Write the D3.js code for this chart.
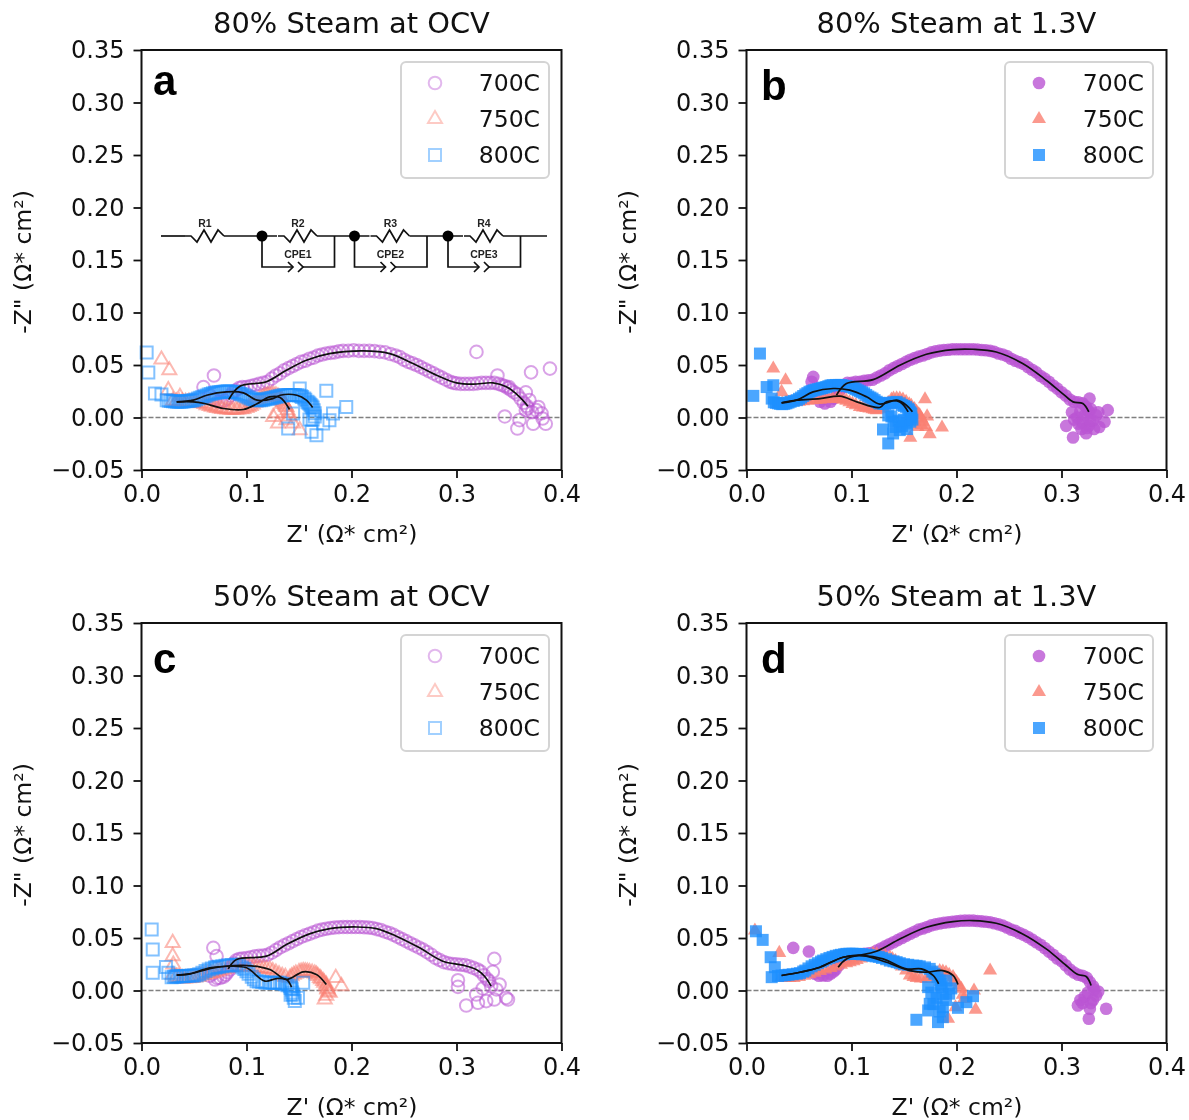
<!DOCTYPE html>
<html>
<head>
<meta charset="utf-8">
<script src="https://cdn.jsdelivr.net/npm/d3@7"></script>
<style>
body { margin: 0; background: #fff; }
svg { display: block; font-family: "DejaVu Sans", sans-serif; fill: #111; filter: blur(.65px); }
</style>
</head>
<body>
<svg id="chart" width="1189" height="1120"></svg>
<script>
// values, [Z', -Z'']

// panel a
var a700 = [[.069,.04],[.059,.029],[.065,.021],[.068,.018],[.07,.017],[.073,.015],[.076,.015],[.079,.016],[.082,.018],[.085,.021],[.087,.024],[.09,.026],[.093,.028],[.096,.029],[.1,.029],[.104,.03],[.108,.031],[.112,.032],[.116,.033],[.12,.034],[.124,.037],[.128,.04],[.132,.042],[.136,.045],[.14,.047],[.144,.049],[.148,.051],[.152,.053],[.156,.054],[.16,.056],[.164,.057],[.168,.059],[.172,.06],[.176,.061],[.18,.0615],[.184,.062],[.188,.063],[.192,.0635],[.197,.0635],[.202,.064],[.207,.0635],[.212,.0635],[.217,.0635],[.222,.0632],[.227,.0625],[.232,.062],[.237,.0605],[.242,.059],[.246,.0575],[.25,.055],[.254,.053],[.258,.0515],[.262,.05],[.266,.048],[.27,.046],[.274,.044],[.278,.042],[.282,.04],[.286,.038],[.29,.036],[.294,.034],[.297,.033],[.3,.0325],[.304,.032],[.308,.032],[.312,.032],[.316,.032],[.32,.0325],[.324,.033],[.328,.033],[.332,.033],[.336,.033],[.34,.032],[.343,.031],[.346,.03],[.349,.028],[.352,.026],[.355,.024],[.358,.022],[.361,.018],[.364,.014],[.367,.011],[.368,.009],[.319,.0625],[.339,.04],[.371,.043],[.389,.0466],[.35,.029],[.366,.024],[.3695,.0165],[.376,.007],[.381,.004],[.366,.007],[.346,.001],[.36,-.0025],[.358,-.0105],[.373,-.006],[.385,-.006],[.382,-.001],[.372,.005],[.378,.01]];
var a750 = [[.019,.0552],[.0265,.045],[.0255,.026],[.0366,.0197],[.03,.016],[.033,.0155],[.036,.015],[.039,.015],[.042,.015],[.045,.0148],[.048,.0145],[.051,.014],[.054,.014],[.057,.0135],[.06,.0128],[.062,.0118],[.065,.011],[.067,.0102],[.07,.0095],[.072,.009],[.075,.0085],[.077,.0082],[.08,.0078],[.082,.0076],[.085,.0075],[.087,.0075],[.09,.0075],[.092,.0076],[.095,.0078],[.097,.0082],[.1,.009],[.102,.01],[.104,.011],[.106,.0125],[.108,.014],[.11,.0155],[.112,.017],[.114,.0183],[.116,.0195],[.118,.0203],[.12,.021],[.122,.0213],[.124,.0215],[.126,.0213],[.128,.021],[.13,.02],[.131,.019],[.133,.017],[.134,.016],[.135,.0145],[.136,.013],[.137,.0115],[.138,.01],[.139,.007],[.14,.004],[.141,.001],[.1254,.0006],[.13,-.0057],[.1507,-.012],[.1444,-.0057],[.138,-.0025],[.1285,.004]];
var a800 = [[.0049,.0618],[.0065,.0428],[.0128,.0228],[.019,.022],[.024,.0165],[.026,.016],[.028,.0158],[.03,.0155],[.032,.0152],[.034,.015],[.036,.015],[.038,.015],[.04,.0152],[.042,.0155],[.044,.0158],[.046,.016],[.048,.0162],[.05,.0165],[.052,.0172],[.054,.018],[.056,.0188],[.058,.0195],[.06,.0202],[.062,.021],[.064,.0218],[.066,.0225],[.068,.023],[.07,.0235],[.072,.0238],[.074,.024],[.076,.0242],[.078,.0245],[.08,.0248],[.082,.025],[.084,.0248],[.086,.0245],[.088,.0243],[.09,.024],[.092,.0233],[.094,.0225],[.096,.0218],[.098,.021],[.1,.02],[.102,.019],[.104,.0182],[.106,.0175],[.108,.017],[.11,.0165],[.112,.0165],[.114,.0165],[.116,.017],[.118,.0175],[.12,.0178],[.122,.018],[.124,.0185],[.126,.019],[.128,.0195],[.13,.02],[.132,.0205],[.134,.021],[.136,.0213],[.138,.0215],[.14,.0215],[.142,.0215],[.144,.0215],[.146,.0215],[.148,.0213],[.15,.021],[.152,.0202],[.153,.0195],[.155,.018],[.156,.017],[.158,.015],[.159,.014],[.16,.013],[.161,.012],[.162,.0108],[.163,.0095],[.164,.007],[.165,.004],[.165,.001],[.163,-.002],[.1507,.0276],[.176,.0254],[.195,.0101],[.1824,.0038],[.179,-.0025],[.173,-.0057],[.162,-.0136],[.1666,-.0168],[.1397,-.0105],[.16,-.002],[.1444,.0038]];
var aFit700 = [[.083,.017],[.0937,.0298],[.119,.034],[.138,.045],[.157,.0546],[.179,.0609],[.211,.0634],[.2364,.0609],[.2586,.0514],[.281,.0403],[.3,.033],[.3157,.0317],[.3347,.033],[.3475,.0292],[.36,.0197],[.368,.0108]];
var aFit750 = [[.0335,.0149],[.0493,.0149],[.06,.0133],[.078,.0086],[.097,.0076],[.11,.013],[.122,.0196],[.132,.019],[.141,.0076]];
var aFit800 = [[.0335,.0149],[.0493,.0165],[.062,.0212],[.081,.0244],[.097,.0235],[.11,.0165],[.125,.018],[.132,.0212],[.148,.0212],[.157,.0165],[.163,.0095]];

// panel b
var b700 = [[.0636,.0387],[.062,.034],[.0746,.0133],[.07,.015],[.074,.018],[.08,.015],[.083,.018],[.086,.021],[.088,.025],[.09,.027],[.093,.031],[.096,.033],[.1,.033],[.104,.034],[.108,.034],[.112,.035],[.116,.0355],[.12,.036],[.124,.038],[.128,.04],[.132,.042],[.136,.045],[.14,.047],[.144,.049],[.148,.051],[.152,.053],[.156,.055],[.16,.0565],[.164,.058],[.168,.059],[.172,.0605],[.176,.062],[.18,.063],[.184,.0637],[.188,.0643],[.192,.0645],[.196,.065],[.2,.065],[.204,.065],[.208,.065],[.212,.065],[.216,.065],[.22,.0647],[.224,.0643],[.228,.064],[.232,.0635],[.236,.0625],[.24,.061],[.244,.06],[.248,.0585],[.252,.056],[.256,.054],[.26,.0525],[.264,.051],[.268,.048],[.272,.0455],[.276,.043],[.28,.0395],[.284,.037],[.288,.034],[.292,.0305],[.296,.0275],[.3,.024],[.304,.021],[.308,.017],[.312,.015],[.316,.0145],[.32,.0135],[.323,.0105],[.325,.007],[.326,.0054],[.344,.007],[.311,-.019],[.3045,-.008],[.3267,.018],[.336,-.009],[.341,-.004],[.3235,-.015],[.31,.005],[.312,-.002],[.315,0],[.318,.006],[.32,-.005],[.322,.002],[.324,-.01],[.326,-.008],[.328,.008],[.33,-.003],[.331,-.011],[.333,.002],[.335,.005],[.316,-.006],[.319,-.011],[.327,-.003]];
var b750 = [[.0255,.0466],[.0372,.0355],[.0334,.0244],[.17,.0174],[.1862,-.0095],[.1745,-.0158],[.156,-.0193],[.171,-.0089],[.03,.013],[.034,.0135],[.038,.014],[.042,.0145],[.046,.0148],[.05,.015],[.054,.0155],[.058,.016],[.062,.0165],[.066,.0168],[.07,.017],[.074,.0175],[.078,.0178],[.082,.018],[.086,.018],[.089,.018],[.092,.017],[.095,.016],[.098,.0145],[.101,.013],[.104,.0118],[.108,.01],[.111,.0095],[.114,.009],[.117,.0085],[.12,.008],[.122,.0075],[.124,.007],[.127,.008],[.13,.009],[.133,.012],[.135,.014],[.138,.017],[.14,.018],[.143,.0182],[.146,.018],[.149,.017],[.152,.015],[.155,.0125],[.157,.011],[.16,.008],[.162,.0054],[.164,.003],[.165,.002],[.1666,-.001],[.1666,-.007],[.168,-.004],[.172,.001],[.16,-.004],[.163,-.009]];
var b800 = [[.0128,.0609],[.0065,.0206],[.0192,.029],[.0255,.0307],[.024,.018],[.026,.0145],[.028,.014],[.03,.0135],[.032,.013],[.034,.0127],[.036,.013],[.038,.0135],[.04,.0142],[.042,.015],[.045,.0158],[.048,.0165],[.05,.0178],[.052,.019],[.054,.0205],[.056,.022],[.058,.0232],[.06,.0245],[.062,.0252],[.064,.026],[.066,.0265],[.068,.027],[.07,.0275],[.072,.028],[.074,.0285],[.076,.029],[.078,.0298],[.08,.0305],[.082,.0308],[.085,.031],[.088,.031],[.09,.031],[.092,.0305],[.095,.03],[.098,.0295],[.1,.029],[.102,.028],[.104,.027],[.106,.026],[.108,.025],[.11,.024],[.112,.023],[.114,.0215],[.116,.02],[.118,.019],[.12,.018],[.122,.0165],[.124,.015],[.126,.014],[.127,.0133],[.13,.013],[.132,.013],[.135,.0135],[.137,.014],[.14,.0145],[.143,.0149],[.146,.0135],[.148,.012],[.15,.011],[.152,.0101],[.154,.0085],[.155,.007],[.156,.005],[.157,.0038],[.157,0],[.13,-.0114],[.135,-.0247],[.1396,-.0152],[.146,-.012],[.1523,-.0057],[.14,-.004],[.135,.002],[.15,-.002],[.156,-.004],[.148,-.008],[.142,-.009],[.153,-.011],[.145,-.003],[.138,.001],[.158,-.002]];
var bFit700 = [[.0857,.0212],[.0952,.0323],[.1206,.0361],[.146,.0498],[.1713,.0602],[.1967,.0647],[.2157,.065],[.2379,.0624],[.263,.0514],[.2854,.0355],[.301,.0228],[.311,.0149],[.3203,.0133],[.326,.0054]];
var bFit750 = [[.0334,.014],[.0477,.0165],[.07,.018],[.089,.0203],[.105,.0149],[.127,.0095],[.1333,.0149],[.146,.0149],[.154,.0054]];
var bFit800 = [[.0334,.014],[.0477,.0165],[.0635,.0244],[.0826,.0276],[.0984,.026],[.1143,.0197],[.127,.0127],[.143,.0165],[.1523,.0117],[.158,.0054]];

// panel c
var c700 = [[.0684,.0406],[.0715,.0327],[.07,.0105],[.065,.014],[.068,.016],[.072,.012],[.075,.012],[.078,.013],[.08,.015],[.082,.0175],[.084,.02],[.086,.023],[.088,.026],[.09,.0285],[.093,.03],[.096,.0305],[.1,.031],[.104,.0317],[.108,.0325],[.112,.033],[.116,.0333],[.12,.034],[.124,.036],[.128,.0385],[.132,.041],[.136,.043],[.14,.045],[.144,.047],[.148,.049],[.152,.051],[.156,.0525],[.16,.0539],[.164,.0555],[.168,.057],[.172,.058],[.176,.0588],[.18,.0595],[.184,.06],[.188,.0603],[.192,.0605],[.196,.0605],[.2,.0605],[.204,.0605],[.208,.0605],[.212,.0602],[.216,.06],[.22,.0595],[.224,.0585],[.228,.0575],[.232,.056],[.236,.0548],[.24,.053],[.244,.051],[.248,.049],[.252,.047],[.256,.045],[.26,.043],[.264,.041],[.268,.039],[.272,.0365],[.276,.034],[.28,.031],[.284,.029],[.288,.027],[.292,.026],[.296,.0253],[.3,.025],[.304,.0245],[.308,.0242],[.312,.023],[.316,.0215],[.32,.02],[.323,.018],[.326,.0145],[.329,.011],[.331,.009],[.333,.004],[.336,.0301],[.3346,.0178],[.3014,.0098],[.3014,.0035],[.3093,-.0143],[.3204,-.0117],[.3283,-.0101],[.3473,-.007],[.349,-.0086],[.341,.0057],[.3188,-.0038],[.336,-.0086],[.325,.002],[.338,.001]];
var c750 = [[.0297,.0453],[.0297,.0327],[.0303,.0247],[.03,.015],[.033,.013],[.036,.012],[.039,.0115],[.0414,.0114],[.045,.0117],[.048,.012],[.051,.0125],[.054,.013],[.057,.014],[.06,.015],[.063,.0158],[.066,.0163],[.0684,.0168],[.072,.018],[.075,.019],[.078,.02],[.082,.021],[.086,.022],[.09,.0225],[.093,.0228],[.0969,.0231],[.1,.0232],[.104,.023],[.107,.0225],[.11,.022],[.113,.0215],[.116,.021],[.119,.0205],[.1222,.02],[.125,.0185],[.128,.017],[.131,.0155],[.134,.014],[.137,.013],[.1413,.012],[.143,.0135],[.145,.015],[.147,.016],[.15,.0175],[.152,.018],[.154,.0184],[.156,.0183],[.158,.018],[.16,.0175],[.1625,.017],[.165,.0162],[.1666,.0152],[.168,.0138],[.17,.012],[.171,.0108],[.173,.009],[.174,.0075],[.176,.0057],[.176,.004],[.177,.002],[.177,.001],[.178,-.001],[.1793,-.0022],[.1745,-.0086],[.176,-.005],[.185,.012],[.1904,.0041]];
var c800 = [[.0097,.058],[.0107,.039],[.0107,.0168],[.0233,.0225],[.0256,.0168],[.0287,.0127],[.031,.013],[.0325,.0133],[.034,.0134],[.036,.0135],[.038,.0135],[.0398,.0136],[.042,.0138],[.045,.014],[.048,.0142],[.05,.0144],[.0525,.0146],[.055,.0155],[.058,.017],[.061,.0185],[.064,.02],[.067,.021],[.07,.0218],[.0715,.0222],[.074,.0226],[.077,.023],[.08,.0235],[.083,.024],[.086,.0243],[.0905,.0247],[.093,.0235],[.096,.022],[.098,.0205],[.1,.0184],[.102,.016],[.105,.013],[.107,.0108],[.1096,.0089],[.112,.0085],[.115,.008],[.118,.0075],[.1222,.0073],[.125,.0073],[.127,.0073],[.129,.0073],[.1318,.0073],[.134,.0065],[.137,.006],[.139,.005],[.1413,.0041],[.142,.0025],[.143,.001],[.1435,-.002],[.1444,-.0038],[.145,-.007],[.146,-.0101],[.154,.0073],[.149,-.0068],[.142,-.004]];
var cFit700 = [[.0826,.0206],[.0905,.0295],[.119,.0327],[.138,.0437],[.16,.0539],[.1793,.059],[.2047,.0605],[.2237,.059],[.2427,.0517],[.2649,.0406],[.287,.0279],[.306,.0241],[.3188,.02],[.3267,.0136],[.333,.0041]];
var cFit750 = [[.0335,.0146],[.046,.0158],[.0684,.0215],[.0969,.024],[.1222,.02],[.138,.0105],[.154,.0178],[.1666,.0152],[.176,.0057]];
var cFit800 = [[.0335,.0146],[.046,.0158],[.065,.0216],[.0842,.0231],[.1,.0216],[.1175,.0089],[.1286,.0114],[.1381,.0105],[.1429,.0032]];

// panel d
var d700 = [[.0445,.0406],[.0594,.0371],[.073,.0143],[.065,.016],[.069,.014],[.077,.014],[.08,.016],[.083,.018],[.085,.02],[.088,.024],[.09,.027],[.093,.03],[.096,.031],[.1,.0325],[.104,.0335],[.108,.034],[.112,.035],[.116,.0355],[.12,.036],[.124,.038],[.128,.04],[.132,.042],[.136,.044],[.14,.046],[.144,.048],[.148,.05],[.152,.052],[.156,.054],[.16,.056],[.164,.058],[.168,.059],[.172,.0605],[.176,.062],[.18,.063],[.184,.0638],[.188,.0645],[.192,.065],[.196,.0655],[.2,.066],[.204,.0664],[.208,.0666],[.212,.0666],[.216,.0666],[.22,.0662],[.224,.0658],[.228,.0655],[.232,.065],[.236,.064],[.24,.063],[.244,.0618],[.248,.06],[.252,.058],[.256,.0568],[.26,.0548],[.264,.053],[.268,.051],[.272,.0485],[.276,.046],[.28,.0435],[.284,.0405],[.288,.037],[.292,.034],[.296,.0305],[.3,.028],[.304,.024],[.308,.02],[.312,.017],[.316,.015],[.32,.014],[.324,.012],[.327,.008],[.33,.004],[.3425,-.0174],[.3156,-.0143],[.327,-.0174],[.326,-.0269],[.333,-.0048],[.33,-.009],[.322,-.006],[.318,-.009],[.328,-.012],[.335,-.001],[.325,-.002],[.331,.001],[.32,-.012]];
var d750 = [[.0312,.0358],[.232,.019],[.2182,-.0184],[.2167,0],[.192,-.0269],[.199,-.016],[.008,.0571],[.033,.0125],[.037,.012],[.041,.012],[.045,.012],[.05,.013],[.055,.014],[.06,.0155],[.065,.017],[.07,.0185],[.075,.02],[.08,.0215],[.085,.023],[.09,.0245],[.095,.026],[.0984,.0269],[.102,.028],[.105,.029],[.109,.0305],[.113,.032],[.117,.0335],[.1206,.0349],[.124,.0345],[.128,.034],[.132,.033],[.1365,.0317],[.139,.03],[.142,.028],[.145,.0255],[.148,.023],[.152,.019],[.1555,.0143],[.159,.013],[.162,.012],[.166,.0115],[.1713,.0111],[.174,.013],[.177,.015],[.18,.0168],[.184,.0184],[.187,.018],[.19,.017],[.193,.015],[.1967,.0127],[.198,.01],[.2,.008],[.202,.005],[.2046,.0016],[.206,-.004],[.207,-.008]];
var d800 = [[.009,.0564],[.0154,.0482],[.023,.0317],[.027,.0222],[.024,.0127],[.03,.0138],[.0334,.0143],[.037,.0146],[.04,.015],[.044,.0155],[.048,.016],[.0509,.0165],[.054,.018],[.056,.019],[.059,.021],[.062,.023],[.065,.0245],[.068,.026],[.071,.0275],[.073,.0285],[.076,.0298],[.079,.031],[.082,.032],[.085,.033],[.088,.0335],[.09,.034],[.093,.0345],[.0952,.0349],[.098,.035],[.101,.035],[.104,.0349],[.107,.0348],[.11,.0345],[.1143,.0342],[.117,.0336],[.12,.033],[.123,.0325],[.126,.032],[.129,.031],[.133,.0298],[.1365,.0285],[.14,.0278],[.143,.027],[.146,.026],[.15,.025],[.154,.0245],[.1587,.0238],[.162,.0235],[.165,.023],[.17,.022],[.1745,.0206],[.177,.018],[.179,.016],[.182,.013],[.184,.0095],[.185,.006],[.186,.003],[.187,-.0032],[.1618,-.0279],[.1824,-.0301],[.187,-.0254],[.1745,-.0127],[.173,-.019],[.2014,-.0165],[.2094,-.0111],[.2157,-.0054],[.1903,.0095],[.173,.0032],[.19,-.009],[.187,-.016],[.193,-.003],[.181,-.007],[.176,-.002],[.178,-.013],[.184,-.02],[.195,.002]];
var dFit700 = [[.0873,.0222],[.0952,.0301],[.1238,.0374],[.146,.0491],[.1713,.0602],[.1967,.0656],[.2157,.0666],[.2379,.064],[.263,.0539],[.2854,.0396],[.3045,.0238],[.3156,.0152],[.3235,.0133],[.3282,.0048]];
var dFit750 = [[.0334,.0143],[.0509,.0174],[.07,.0222],[.092,.0317],[.111,.0333],[.1333,.0269],[.1555,.019],[.1713,.0174],[.187,.019],[.1967,.0143],[.2014,.0057]];
var dFit800 = [[.0334,.0143],[.0509,.0174],[.07,.0222],[.092,.0317],[.111,.0333],[.13,.0301],[.1523,.0206],[.1666,.0206],[.1777,.0143],[.183,.0063]];

var xTicks = [0, .1, .2, .3, .4];
var yTicks = [-.05, 0, .05, .1, .15, .2, .25, .3, .35];
var seriesNames = ['700C', '750C', '800C'];
var seriesColors = ['#ba55d3', '#fa8072', '#1e90ff'];
var seriesShapes = [d3.symbolCircle, d3.symbolTriangle, d3.symbolSquare];

var panels = [
  {title: '80% Steam at OCV', letter: 'a', left: 141.5, top: 50, filled: false, lx: 153, ly: 95, lgx: 259.5, pts: [a700, a750, a800], fits: [aFit700, aFit750, aFit800]},
  {title: '80% Steam at 1.3V', letter: 'b', left: 746.5, top: 50, filled: true, lx: 761, ly: 100, lgx: 258.5, pts: [b700, b750, b800], fits: [bFit700, bFit750, bFit800]},
  {title: '50% Steam at OCV', letter: 'c', left: 141.5, top: 623, filled: false, lx: 153, ly: 673, lgx: 259.5, pts: [c700, c750, c800], fits: [cFit700, cFit750, cFit800]},
  {title: '50% Steam at 1.3V', letter: 'd', left: 746.5, top: 623, filled: true, lx: 761, ly: 673, lgx: 258.5, pts: [d700, d750, d800], fits: [dFit700, dFit750, dFit800]}
];

var size = 420;
var x = d3.scaleLinear().domain([0, .4]).range([0, size]);
var y = d3.scaleLinear().domain([-.05, .35]).range([size, 0]);

var svg = d3.select('#chart');

// marker areas for about a 12px wide mark
var areas = [125, 85, 144];
function shape(i) { return d3.symbol().type(seriesShapes[i]).size(areas[i]); }

function styleMarks(sel, i, filled, alpha) {
  if (filled) {
    sel.attr('fill', seriesColors[i]).attr('fill-opacity', .8).attr('stroke', 'none');
  } else {
    sel.attr('fill', 'none').attr('stroke', seriesColors[i]).attr('stroke-opacity', alpha).attr('stroke-width', 2);
  }
}

var line = d3.line().x(d => x(d[0])).y(d => y(d[1])).curve(d3.curveCatmullRom);

panels.forEach(p => {
  var g = svg.append('g').attr('transform', `translate(${p.left},${p.top})`);

  g.append('line')
    .attr('x1', x(0)).attr('x2', x(.4))
    .attr('y1', y(0)).attr('y2', y(0))
    .attr('stroke', '#808080').attr('stroke-width', 1.3).attr('stroke-dasharray', '5,2');

  p.pts.forEach((pts, i) => {
    g.append('g').selectAll('path').data(pts).enter().append('path')
      .attr('d', shape(i))
      .attr('transform', d => `translate(${x(d[0])},${y(d[1])})`)
      .call(styleMarks, i, p.filled, .55);
  });

  p.fits.forEach(f => {
    g.append('path').datum(f)
      .attr('d', line)
      .attr('fill', 'none').attr('stroke', '#111').attr('stroke-width', 1.7);
  });

  var xAxis = g.append('g').attr('transform', `translate(0,${size})`)
    .call(d3.axisBottom(x).tickValues(xTicks).tickFormat(d3.format('.1f')).tickSize(8).tickPadding(7));
  var yAxis = g.append('g')
    .call(d3.axisLeft(y).tickValues(yTicks).tickFormat(d3.format('.2f')).tickSize(8).tickPadding(9));
  [xAxis, yAxis].forEach(a => {
    a.selectAll('text').attr('font-size', 24).attr('font-family', '"DejaVu Sans"').attr('fill', '#111');
    a.selectAll('line').attr('stroke', '#111').attr('stroke-width', 1.8);
    a.select('.domain').remove();
  });
  g.append('rect').attr('width', size).attr('height', size)
    .attr('fill', 'none').attr('stroke', '#111').attr('stroke-width', 2);

  g.append('text').attr('x', size / 2).attr('y', -17).attr('text-anchor', 'middle')
    .attr('font-size', 28.9).text(p.title);
  g.append('text').attr('x', size / 2 + 0.5).attr('y', 492).attr('text-anchor', 'middle')
    .attr('font-size', 23.5).text("Z' (Ω* cm²)");
  g.append('text').attr('transform', `translate(-111,${size / 2 + 2}) rotate(-90)`).attr('text-anchor', 'middle')
    .attr('font-size', 23.5).text('-Z" (Ω* cm²)');

  svg.append('text').attr('x', p.lx).attr('y', p.ly)
    .attr('font-family', '"Liberation Sans"').attr('font-weight', 700).attr('font-size', 42).attr('fill', '#000')
    .text(p.letter);

  // legend
  var lg = g.append('g').attr('transform', `translate(${p.lgx},12)`);
  lg.append('rect').attr('width', 148).attr('height', 116).attr('rx', 5)
    .attr('fill', '#fff').attr('stroke', '#d4d4d4').attr('stroke-width', 2);
  seriesNames.forEach((n, i) => {
    var yy = 21 + i * 36;
    lg.append('path').attr('d', shape(i)).attr('transform', `translate(34,${yy})`).call(styleMarks, i, p.filled, .42);
    lg.append('text').attr('x', 139).attr('y', yy + 7.5).attr('text-anchor', 'end')
      .attr('font-size', 23.5).text(n);
  });
});

// equivalent circuit inset in panel a
var labelsR = ['R2', 'R3', 'R4'];
var labelsC = ['CPE1', 'CPE2', 'CPE3'];
var nodeX = [262, 354.5, 448];
var wireY = 236;
var circuit = svg.append('g').attr('fill', 'none').attr('stroke', '#111').attr('stroke-width', 1.7);

function zigzag(x0) {
  var p = d3.path();
  p.moveTo(x0, wireY);
  [[6, 0], [12, 6], [19, -6], [26, 6], [33, -6], [39, 0]].forEach(s => p.lineTo(x0 + s[0], wireY + s[1]));
  return p.toString();
}
function label(cx, cy, txt) {
  circuit.append('text').attr('x', cx).attr('y', cy).attr('text-anchor', 'middle')
    .attr('font-family', '"Liberation Sans"').attr('font-size', 10.5).attr('font-weight', 700)
    .attr('fill', '#222').attr('stroke', 'none').text(txt);
}

circuit.append('path').attr('d', `M161,${wireY}H185`);
circuit.append('path').attr('d', zigzag(185));
circuit.append('path').attr('d', `M224,${wireY}H${nodeX[0] + 15}`);
label(205, 227, 'R1');
nodeX.forEach((nx, i) => {
  var zx = nx + 16;
  var end = i < 2 ? nodeX[i + 1] + 15 : 547;
  circuit.append('path').attr('d', zigzag(zx));
  circuit.append('path').attr('d', `M${zx + 39},${wireY}H${end}`);
  var right = nx + 72.5;
  circuit.append('path').attr('d', `M${nx},${wireY}V267H${nx + 31}`);
  circuit.append('path').attr('d', `M${nx + 41},267H${right}V${wireY}`);
  circuit.append('path').attr('d', `M${nx + 26},262L${nx + 31},267L${nx + 26},272`);
  circuit.append('path').attr('d', `M${nx + 36},262L${nx + 41},267L${nx + 36},272`);
  circuit.append('circle').attr('cx', nx).attr('cy', wireY).attr('r', 5.5).attr('fill', '#000').attr('stroke', 'none');
  label(nx + 36, 227, labelsR[i]);
  label(nx + 36, 258, labelsC[i]);
});
</script>
</body>
</html>
